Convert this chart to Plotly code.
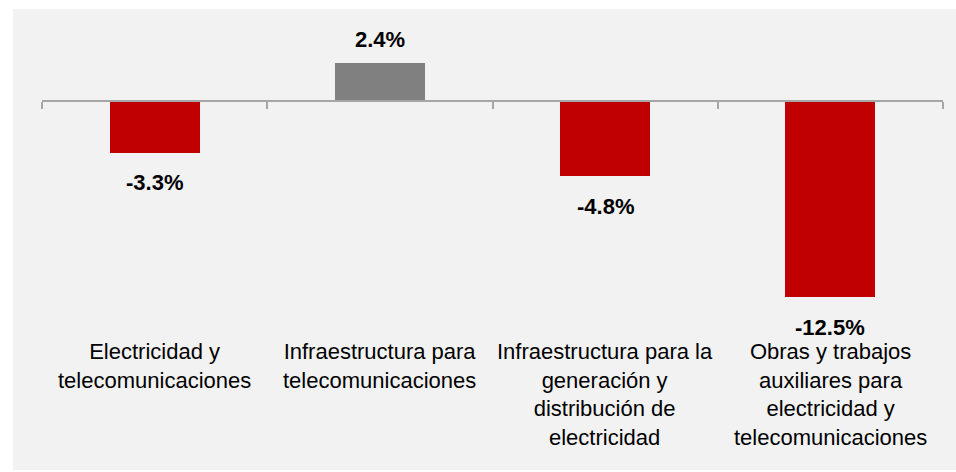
import plotly.graph_objects as go

categories = [
    "Electricidad y<br>telecomunicaciones",
    "Infraestructura para<br>telecomunicaciones",
    "Infraestructura para la<br>generación y<br>distribución de<br>electricidad",
    "Obras y trabajos<br>auxiliares para<br>electricidad y<br>telecomunicaciones",
]
values = [-3.3, 2.4, -4.8, -12.5]

RED = "#c00000"
GREY = "#808080"
AXIS = "#a6a6a6"
BG = "#f2f2f2"
FONT = "Liberation Sans, Arial, sans-serif"

W, H = 956, 472
ml, mr, mt, mb = 42, 13, 10, 110
plot_h = H - mt - mb
px_per_pct = 15.7
zero_px = 101
hi = (zero_px - mt) / px_per_pct
lo = hi - plot_h / px_per_pct
zero_pos = (0 - lo) / (hi - lo)
pw = W - ml - mr


def paper_y(py):
    return (H - mb - py) / plot_h


def paper_x(px):
    return (px - ml) / pw


x = list(range(len(categories)))
colors = [GREY if v > 0 else RED for v in values]

fig = go.Figure()
fig.add_trace(
    go.Bar(
        x=x,
        y=values,
        width=0.4,
        marker=dict(color=colors, line=dict(width=0)),
        hoverinfo="skip",
        showlegend=False,
    )
)

# value labels
for i, v in enumerate(values):
    fig.add_annotation(
        x=i,
        y=v,
        text=f"<b>{v:.1f}%</b>",
        showarrow=False,
        yanchor="middle",
        yshift=24 if v > 0 else -30,
        font=dict(family=FONT, size=22, color="#000000"),
    )

# category labels
for i, c in enumerate(categories):
    fig.add_annotation(
        x=i,
        y=paper_y(337),
        yref="paper",
        text=c,
        showarrow=False,
        yanchor="top",
        align="center",
        font=dict(family=FONT, size=22, color="#000000"),
    )

# white border round the grey panel (left, top, bottom)
for x0, x1, y0, y1 in [(0, 13, 0, H), (0, W, 0, 9), (0, W, 470, H)]:
    fig.add_shape(type="rect", xref="paper", yref="paper",
                  x0=paper_x(x0), x1=paper_x(x1), y0=paper_y(y1), y1=paper_y(y0),
                  fillcolor="#ffffff", line=dict(width=0), layer="below")

fig.update_layout(
    width=W,
    height=H,
    margin=dict(l=ml, r=mr, t=mt, b=mb),
    paper_bgcolor=BG,
    plot_bgcolor="rgba(0,0,0,0)",
    bargap=0,
    xaxis=dict(
        range=[-0.5, len(categories) - 0.5],
        tickvals=[i - 0.5 for i in range(len(categories) + 1)],
        showticklabels=False,
        ticks="outside",
        ticklen=7,
        tickwidth=1.5,
        tickcolor=AXIS,
        showline=True,
        linecolor=AXIS,
        linewidth=1.5,
        showgrid=False,
        zeroline=False,
        anchor="free",
        position=zero_pos,
        fixedrange=True,
    ),
    yaxis=dict(
        range=[lo, hi],
        visible=False,
        showgrid=False,
        zeroline=False,
        fixedrange=True,
    ),
)

# drop the default page margin so the figure fills the window
fig.write_html(
    "out.html",
    config={"displayModeBar": False},
    post_script="document.body.style.margin='0';document.body.style.overflow='hidden';",
)
